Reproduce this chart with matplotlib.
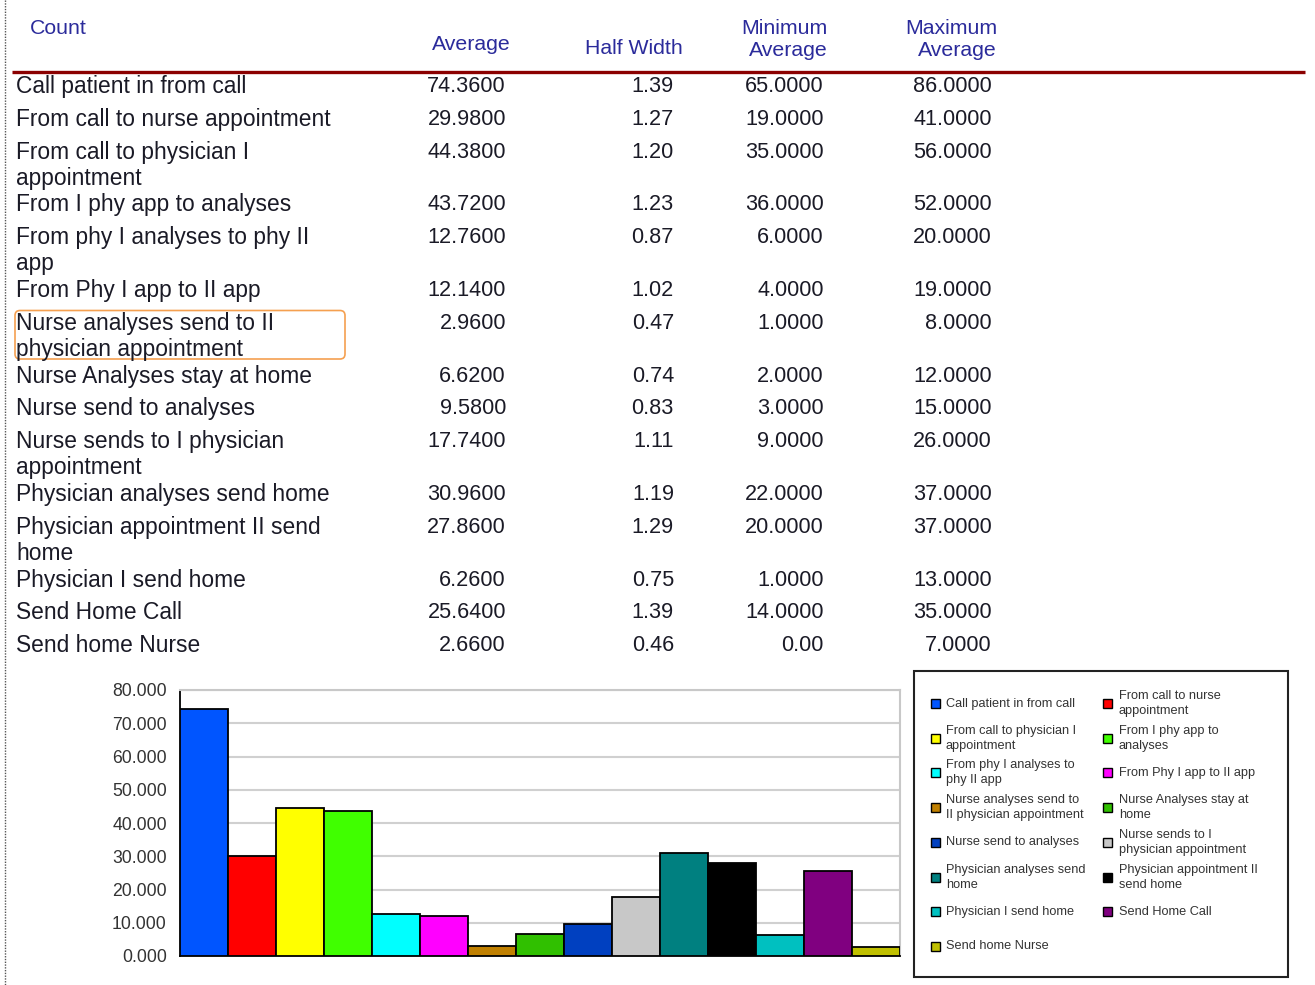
import matplotlib
matplotlib.use("Agg")
import matplotlib.pyplot as plt
from matplotlib.patches import Rectangle, FancyBboxPatch

plt.rcParams['font.family'] = ['Liberation Sans', 'DejaVu Sans']

# table / chart data
categories = [
    "Call patient in from call", "From call to nurse appointment",
    "From call to physician I appointment", "From I phy app to analyses",
    "From phy I analyses to phy II app", "From Phy I app to II app",
    "Nurse analyses send to II physician appointment", "Nurse Analyses stay at home",
    "Nurse send to analyses", "Nurse sends to I physician appointment",
    "Physician analyses send home", "Physician appointment II send home",
    "Physician I send home", "Send Home Call", "Send home Nurse",
]
table_labels = [
    "Call patient in from call", "From call to nurse appointment",
    "From call to physician I\nappointment", "From I phy app to analyses",
    "From phy I analyses to phy II\napp", "From Phy I app to II app",
    "Nurse analyses send to II\nphysician appointment", "Nurse Analyses stay at home",
    "Nurse send to analyses", "Nurse sends to I physician\nappointment",
    "Physician analyses send home", "Physician appointment II send\nhome",
    "Physician I send home", "Send Home Call", "Send home Nurse",
]
legend_labels = [
    "Call patient in from call", "From call to nurse\nappointment",
    "From call to physician I\nappointment", "From I phy app to\nanalyses",
    "From phy I analyses to\nphy II app", "From Phy I app to II app",
    "Nurse analyses send to\nII physician appointment", "Nurse Analyses stay at\nhome",
    "Nurse send to analyses", "Nurse sends to I\nphysician appointment",
    "Physician analyses send\nhome", "Physician appointment II\nsend home",
    "Physician I send home", "Send Home Call", "Send home Nurse",
]
average = [74.36, 29.98, 44.38, 43.72, 12.76, 12.14, 2.96, 6.62, 9.58, 17.74,
           30.96, 27.86, 6.26, 25.64, 2.66]
half_width = [1.39, 1.27, 1.20, 1.23, 0.87, 1.02, 0.47, 0.74, 0.83, 1.11,
              1.19, 1.29, 0.75, 1.39, 0.46]
min_average = [65, 19, 35, 36, 6, 4, 1, 2, 3, 9, 22, 20, 1, 14, 0]
max_average = [86, 41, 56, 52, 20, 19, 8, 12, 15, 26, 37, 37, 13, 35, 7]
bar_colors = ['#0055ff', '#ff0000', '#ffff00', '#40ff00', '#00ffff', '#ff00ff',
              '#c08000', '#30c000', '#0040c0', '#c8c8c8', '#008080', '#000000',
              '#00c0c0', '#800080', '#c0c000']
y_ticks = [0, 10, 20, 30, 40, 50, 60, 70, 80]

header_color = '#2b2b9b'
text_color = '#1a1a26'


def fmt4(v):
    return "0.00" if v == 0 else f"{v:.4f}"


fig = plt.figure(figsize=(13.15, 9.85), dpi=100)

# background axes in pixel coordinates for the report table
bg = fig.add_axes([0, 0, 1, 1])
bg.set_xlim(0, 1315)
bg.set_ylim(985, 0)
bg.axis('off')

bg.plot([5, 5], [0, 985], color='#555555', lw=1, ls=(0, (1, 1)))

# headers
hs = 15.3
bg.text(30, 28, "Count", color=header_color, fontsize=hs, va='center', ha='left')
bg.text(511, 45, "Average", color=header_color, fontsize=hs, va='center', ha='right')
bg.text(683, 48, "Half Width", color=header_color, fontsize=hs, va='center', ha='right')
bg.text(828, 29, "Minimum", color=header_color, fontsize=hs, va='center', ha='right')
bg.text(828, 50, "Average", color=header_color, fontsize=hs, va='center', ha='right')
bg.text(997, 29, "Maximum", color=header_color, fontsize=hs, va='center', ha='right')
bg.text(997, 50, "Average", color=header_color, fontsize=hs, va='center', ha='right')

bg.plot([12, 1305], [72, 72], color='#8b0000', lw=2.4, solid_capstyle='butt')

# rows
fs = 15.6
fs_lab = 16.4
y = 86.5
for i, lab in enumerate(table_labels):
    lines = lab.split("\n")
    for k, line in enumerate(lines):
        bg.text(16, y + 26 * k, line, fontsize=fs_lab, color=text_color, va='center', ha='left')
    bg.text(506, y, f"{average[i]:.4f}", fontsize=fs, color=text_color, va='center', ha='right')
    bg.text(674, y, f"{half_width[i]:.2f}", fontsize=fs, color=text_color, va='center', ha='right')
    bg.text(824, y, fmt4(min_average[i]), fontsize=fs, color=text_color, va='center', ha='right')
    bg.text(992, y, fmt4(max_average[i]), fontsize=fs, color=text_color, va='center', ha='right')
    if i == 6:
        bg.add_patch(FancyBboxPatch((15, 310.5), 330, 48.5,
                                    boxstyle="round,pad=0,rounding_size=5",
                                    ec='#f5a050', fc='none', lw=1.2))
    y += 32.8 + 20 * (len(lines) - 1)

# legend box
bg.add_patch(Rectangle((914, 671), 374, 306, fc='white', ec='#222222', lw=1.5))
for i, lab in enumerate(legend_labels):
    col, row = i % 2, i // 2
    mx = 936 if col == 0 else 1108
    tx = 946 if col == 0 else 1119
    yc = 703.5 + row * 34.7
    bg.add_patch(Rectangle((mx - 4.5, yc - 4.5), 9, 9, fc=bar_colors[i], ec='black', lw=1))
    lines = lab.split("\n")
    offs = [0] if len(lines) == 1 else [-7.5, 7.5]
    for line, o in zip(lines, offs):
        bg.text(tx, yc + o, line, fontsize=9.2, color='#333333', va='center', ha='left')

# bar chart
ax = fig.add_axes([180 / 1315, 29 / 985, 720 / 1315, 266 / 985])
ax.bar(range(len(average)), average, width=1.0, color=bar_colors,
       edgecolor='black', linewidth=1.3, zorder=3)
ax.set_xlim(-0.5, len(average) - 0.5)
ax.set_ylim(0, 80)
ax.set_yticks(y_ticks)
ax.set_yticklabels([f"{v:.3f}" for v in y_ticks])
ax.set_xticks([])
ax.yaxis.grid(True, color='#d0d0d0', lw=1.5)
ax.set_axisbelow(True)
ax.tick_params(axis='y', length=0, pad=9.5, labelsize=12.7, labelcolor='#333333')
for s in ['left', 'bottom']:
    ax.spines[s].set_color('black')
    ax.spines[s].set_linewidth(1.3)
for s in ['top', 'right']:
    ax.spines[s].set_color('#c8c8c8')
    ax.spines[s].set_linewidth(1.5)

fig.savefig("out.png", dpi=100)
